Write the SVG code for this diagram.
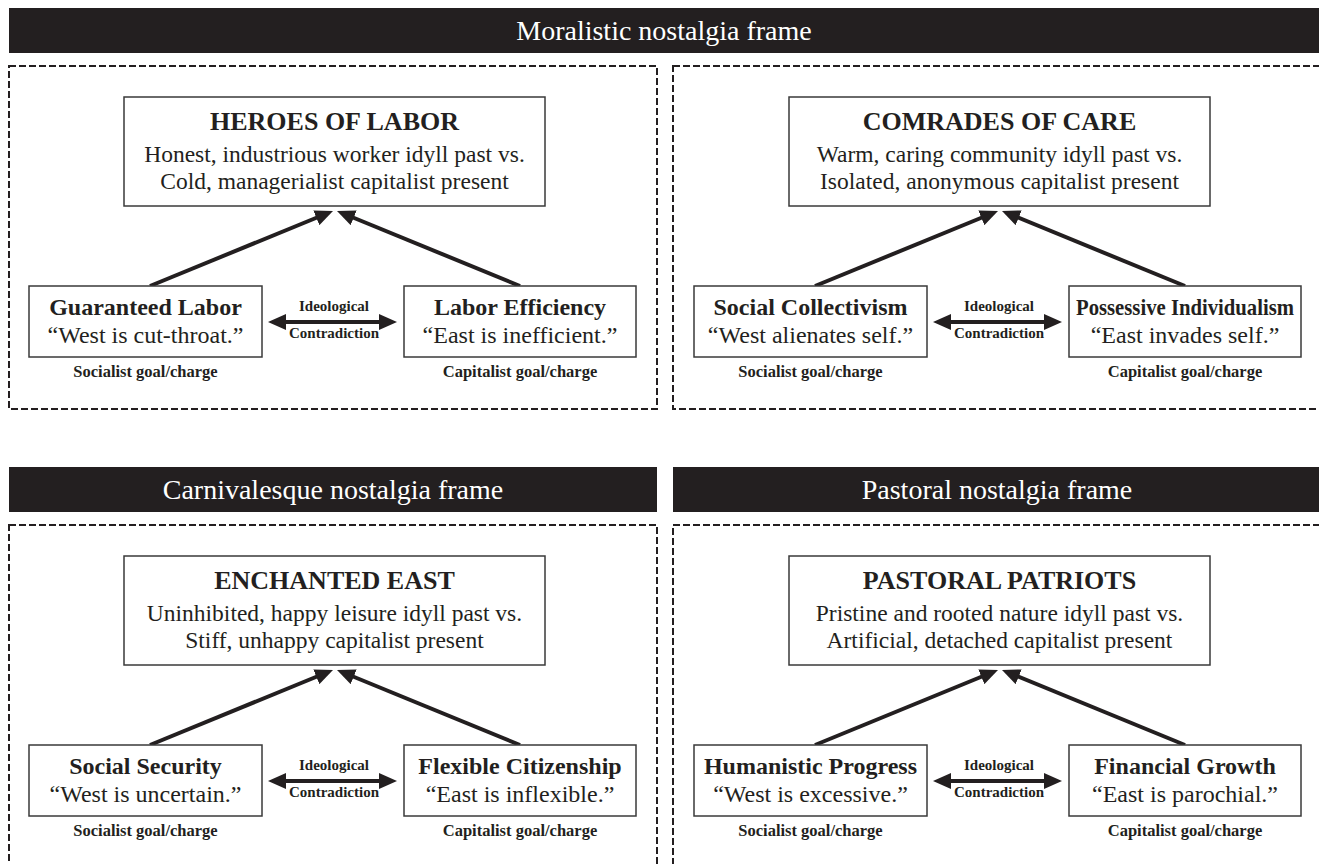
<svg xmlns="http://www.w3.org/2000/svg" width="1319" height="864" viewBox="0 0 1319 864">
<style>
text{font-family:"Liberation Serif","Times New Roman",serif;fill:#231f20;text-anchor:middle}
.bar{fill:#231f20}
.bartxt{fill:#ffffff;font-size:28px}
.dash{fill:none;stroke:#231f20;stroke-width:2;stroke-dasharray:7 3}
.box{fill:#ffffff;stroke:#3a3a3a;stroke-width:1.5}
.ttl{font-size:26px;font-weight:bold}
.body{font-size:23.5px}
.sub{font-size:24px;font-weight:bold}
.q{font-size:24px}
.lab{font-size:16.5px;font-weight:bold}
.mid{font-size:15px;font-weight:bold}
.arr{stroke:#231f20;stroke-width:4;fill:none}
</style>
<defs>
<marker id="ah" markerUnits="userSpaceOnUse" markerWidth="18" markerHeight="16" viewBox="0 0 18 16" refX="6" refY="8" orient="auto-start-reverse">
<path d="M0,0 L18,8 L0,16 z" fill="#231f20"/>
</marker>
</defs>
<rect width="1319" height="864" fill="#ffffff"/>

<g id="frame-moralistic">
<rect class="bar" x="9" y="8" width="1315" height="45"/>
<text class="bartxt" x="664" y="40">Moralistic nostalgia frame</text>
<rect class="dash" x="9" y="66" width="648" height="343"/>
<rect class="dash" x="673" y="66" width="660" height="343"/>
</g>
<g id="frame-carnivalesque">
<rect class="bar" x="9" y="467" width="648" height="45"/>
<text class="bartxt" x="333" y="499">Carnivalesque nostalgia frame</text>
<rect class="dash" x="9" y="525" width="648" height="360"/>
</g>
<g id="frame-pastoral">
<rect class="bar" x="673" y="467" width="660" height="45"/>
<text class="bartxt" x="997" y="499">Pastoral nostalgia frame</text>
<rect class="dash" x="673" y="525" width="660" height="360"/>
</g>

<g id="connectors">
<g id="conn-tl">
<line class="arr" x1="150" y1="286" x2="321.9" y2="215.5" marker-end="url(#ah)"/>
<line class="arr" x1="520" y1="286" x2="348.1" y2="215.5" marker-end="url(#ah)"/>
<line class="arr" x1="280" y1="322" x2="385" y2="322" marker-start="url(#ah)" marker-end="url(#ah)"/>
</g>
<g id="conn-tr" transform="translate(665,0)">
<line class="arr" x1="150" y1="286" x2="321.9" y2="215.5" marker-end="url(#ah)"/>
<line class="arr" x1="520" y1="286" x2="348.1" y2="215.5" marker-end="url(#ah)"/>
<line class="arr" x1="280" y1="322" x2="385" y2="322" marker-start="url(#ah)" marker-end="url(#ah)"/>
</g>
<g id="conn-bl" transform="translate(0,459)">
<line class="arr" x1="150" y1="286" x2="321.9" y2="215.5" marker-end="url(#ah)"/>
<line class="arr" x1="520" y1="286" x2="348.1" y2="215.5" marker-end="url(#ah)"/>
<line class="arr" x1="280" y1="322" x2="385" y2="322" marker-start="url(#ah)" marker-end="url(#ah)"/>
</g>
<g id="conn-br" transform="translate(665,459)">
<line class="arr" x1="150" y1="286" x2="321.9" y2="215.5" marker-end="url(#ah)"/>
<line class="arr" x1="520" y1="286" x2="348.1" y2="215.5" marker-end="url(#ah)"/>
<line class="arr" x1="280" y1="322" x2="385" y2="322" marker-start="url(#ah)" marker-end="url(#ah)"/>
</g>
</g>

<!-- Top-left panel -->
<g id="heroes-of-labor">
<rect class="box" x="124" y="97" width="421" height="109"/>
<text class="ttl" x="334.5" y="130">HEROES OF LABOR</text>
<text class="body" x="334.5" y="162">Honest, industrious worker idyll past vs.</text>
<text class="body" x="334.5" y="189">Cold, managerialist capitalist present</text>
</g>
<g id="guaranteed-labor">
<rect class="box" x="29" y="286" width="233" height="71"/>
<text class="sub" x="145.5" y="315">Guaranteed Labor</text>
<text class="q" x="145.5" y="343">“West is cut-throat.”</text>
<text class="lab" x="145.5" y="377">Socialist goal/charge</text>
</g>
<g id="labor-efficiency">
<rect class="box" x="404" y="286" width="232" height="71"/>
<text class="sub" x="520" y="315">Labor Efficiency</text>
<text class="q" x="520" y="343">“East is inefficient.”</text>
<text class="lab" x="520" y="377">Capitalist goal/charge</text>
</g>
<g id="contradiction-tl">
<text class="mid" x="334" y="311">Ideological</text>
<text class="mid" x="334" y="338">Contradiction</text>
</g>

<!-- Top-right panel -->
<g id="comrades-of-care">
<rect class="box" x="789" y="97" width="421" height="109"/>
<text class="ttl" x="999.5" y="130">COMRADES OF CARE</text>
<text class="body" x="999.5" y="162">Warm, caring community idyll past vs.</text>
<text class="body" x="999.5" y="189">Isolated, anonymous capitalist present</text>
</g>
<g id="social-collectivism">
<rect class="box" x="694" y="286" width="233" height="71"/>
<text class="sub" x="810.5" y="315">Social Collectivism</text>
<text class="q" x="810.5" y="343">“West alienates self.”</text>
<text class="lab" x="810.5" y="377">Socialist goal/charge</text>
</g>
<g id="possessive-individualism">
<rect class="box" x="1069" y="286" width="232" height="71"/>
<text class="sub" x="1185" y="315" style="font-size:23px" textLength="218" lengthAdjust="spacingAndGlyphs">Possessive Individualism</text>
<text class="q" x="1185" y="343">“East invades self.”</text>
<text class="lab" x="1185" y="377">Capitalist goal/charge</text>
</g>
<g id="contradiction-tr">
<text class="mid" x="999" y="311">Ideological</text>
<text class="mid" x="999" y="338">Contradiction</text>
</g>

<!-- Bottom-left panel -->
<g id="enchanted-east">
<rect class="box" x="124" y="556" width="421" height="109"/>
<text class="ttl" x="334.5" y="589">ENCHANTED EAST</text>
<text class="body" x="334.5" y="621">Uninhibited, happy leisure idyll past vs.</text>
<text class="body" x="334.5" y="648">Stiff, unhappy capitalist present</text>
</g>
<g id="social-security">
<rect class="box" x="29" y="745" width="233" height="71"/>
<text class="sub" x="145.5" y="774">Social Security</text>
<text class="q" x="145.5" y="802">“West is uncertain.”</text>
<text class="lab" x="145.5" y="836">Socialist goal/charge</text>
</g>
<g id="flexible-citizenship">
<rect class="box" x="404" y="745" width="232" height="71"/>
<text class="sub" x="520" y="774">Flexible Citizenship</text>
<text class="q" x="520" y="802">“East is inflexible.”</text>
<text class="lab" x="520" y="836">Capitalist goal/charge</text>
</g>
<g id="contradiction-bl">
<text class="mid" x="334" y="770">Ideological</text>
<text class="mid" x="334" y="797">Contradiction</text>
</g>

<!-- Bottom-right panel -->
<g id="pastoral-patriots">
<rect class="box" x="789" y="556" width="421" height="109"/>
<text class="ttl" x="999.5" y="589">PASTORAL PATRIOTS</text>
<text class="body" x="999.5" y="621">Pristine and rooted nature idyll past vs.</text>
<text class="body" x="999.5" y="648">Artificial, detached capitalist present</text>
</g>
<g id="humanistic-progress">
<rect class="box" x="694" y="745" width="233" height="71"/>
<text class="sub" x="810.5" y="774">Humanistic Progress</text>
<text class="q" x="810.5" y="802">“West is excessive.”</text>
<text class="lab" x="810.5" y="836">Socialist goal/charge</text>
</g>
<g id="financial-growth">
<rect class="box" x="1069" y="745" width="232" height="71"/>
<text class="sub" x="1185" y="774">Financial Growth</text>
<text class="q" x="1185" y="802">“East is parochial.”</text>
<text class="lab" x="1185" y="836">Capitalist goal/charge</text>
</g>
<g id="contradiction-br">
<text class="mid" x="999" y="770">Ideological</text>
<text class="mid" x="999" y="797">Contradiction</text>
</g>
</svg>
